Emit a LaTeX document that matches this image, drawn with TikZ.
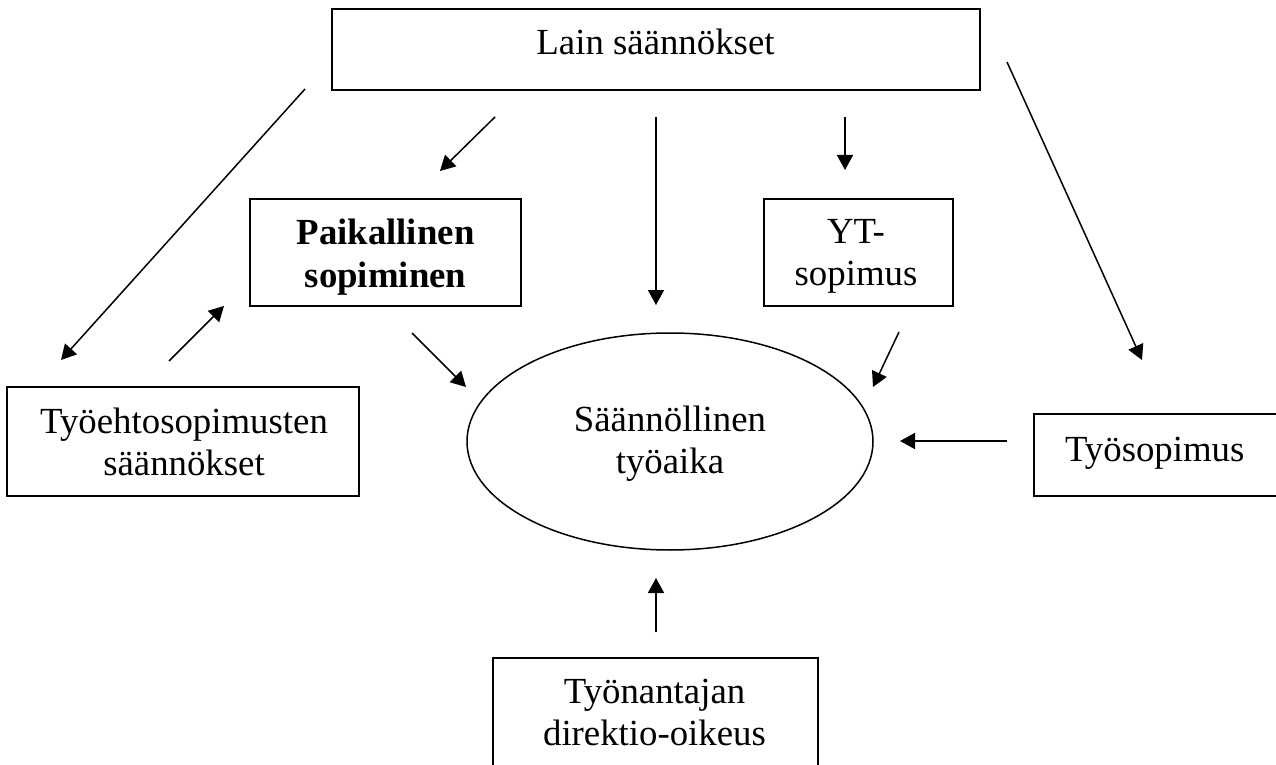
\documentclass[tikz,border=0pt]{standalone}
\usepackage{fontspec}
\setmainfont{Liberation Serif}
\usetikzlibrary{arrows.meta,shapes.geometric}
\newcommand\twoline[2]{\begin{tabular}[t]{@{}c@{}}#1\\#2\end{tabular}}
\tikzset{
  boxnode/.style={draw, line width=1pt, rectangle, inner sep=0pt, outer sep=0pt},
  txt/.style={inner sep=0pt, outer sep=0pt, anchor=base, font=\fontsize{18.4pt}{21pt}\selectfont},
  arr/.style={draw, line width=0.75pt, -{Triangle[length=7.5pt,width=8pt]}},
}
\begin{document}
\begin{tikzpicture}[x=0.5pt,y=-0.5pt]
\useasboundingbox (0,0) rectangle (1276,765);
\clip (0,0) rectangle (1276,765);
% boxes
\node[boxnode, minimum width=324pt, minimum height=40.5pt] (lain) at (656,49.5) {};
\node[txt] (lainT) at (655.5,55) {Lain säännökset};
\node[boxnode, minimum width=135.5pt, minimum height=53.5pt] (paik) at (385.5,252.5) {};
\node[txt, font=\fontsize{18.4pt}{21pt}\selectfont\bfseries] (paikT) at (385.5,245) {\twoline{Paikallinen}{sopiminen}};
\node[boxnode, minimum width=94.5pt, minimum height=53.5pt] (yt) at (858.5,252.5) {};
\node[txt] (ytT) at (856,243) {\twoline{YT-}{sopimus}};
\node[boxnode, minimum width=176pt, minimum height=54.5pt] (tes) at (183,441.5) {};
\node[txt] (tesT) at (184,433) {\twoline{Työehtosopimusten}{säännökset}};
\node[boxnode, minimum width=183pt, minimum height=41pt] (ts) at (1217,455) {};
\node[txt, anchor=base west] (tsT) at (1065,461) {Työsopimus};
\node[boxnode, minimum width=162.5pt, minimum height=71pt] (ta) at (655.5,729) {};
\node[txt] (taT) at (654.5,703) {\twoline{Työnantajan}{direktio-oikeus}};
\node[draw, ellipse, line width=0.75pt, inner sep=0pt, minimum width=203pt, minimum height=108.5pt] (aika) at (670,441.5) {};
\node[txt] (aikaT) at (670,431) {\twoline{Säännöllinen}{työaika}};
% connector ends
\coordinate (a1s) at (305,89);  \coordinate (a1e) at (61,360);
\coordinate (a2s) at (495,117); \coordinate (a2e) at (440,171);
\coordinate (a3s) at (169,361); \coordinate (a3e) at (224,306);
\coordinate (a4s) at (412,333); \coordinate (a4e) at (466,387);
\coordinate (a5s) at (656,117); \coordinate (a5e) at (656,305);
\coordinate (a6s) at (845,117); \coordinate (a6e) at (845,170);
\coordinate (a7s) at (899,332); \coordinate (a7e) at (873,387);
\coordinate (a8s) at (1007,62); \coordinate (a8e) at (1142,360);
\coordinate (a9s) at (1007,441); \coordinate (a9e) at (900,441);
\coordinate (a10s) at (656,632); \coordinate (a10e) at (656,578);
\draw[arr] (a1s) -- (a1e);
\draw[arr] (a2s) -- (a2e);
\draw[arr] (a3s) -- (a3e);
\draw[arr] (a4s) -- (a4e);
\draw[arr] (a5s) -- (a5e);
\draw[arr] (a6s) -- (a6e);
\draw[arr] (a7s) -- (a7e);
\draw[arr] (a8s) -- (a8e);
\draw[arr] (a9s) -- (a9e);
\draw[arr] (a10s) -- (a10e);
\end{tikzpicture}
\end{document}
